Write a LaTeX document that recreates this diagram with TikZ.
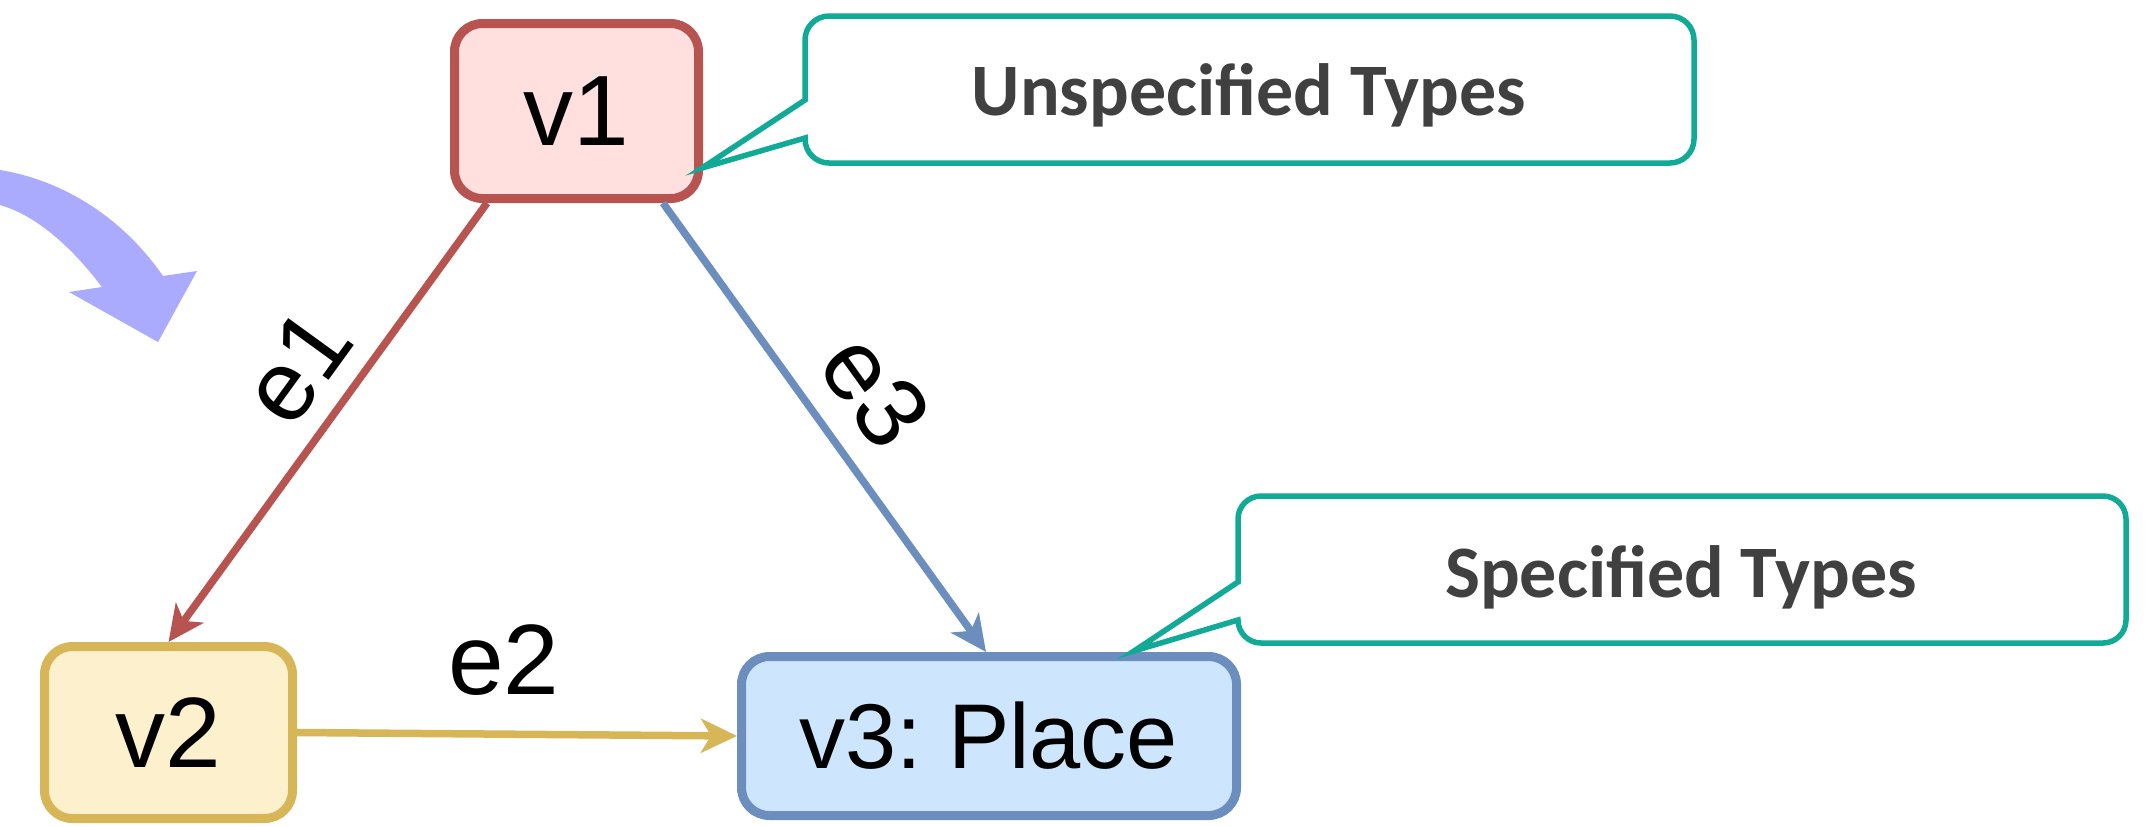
\documentclass[tikz,border=0pt]{standalone}
\usepackage{fontspec}
\setmainfont{Liberation Sans}
\newfontfamily\calloutfont{Carlito}
\usetikzlibrary{arrows.meta}

\definecolor{redline}{RGB}{184,84,80}
\definecolor{redfill}{RGB}{255,224,223}
\definecolor{yelline}{RGB}{214,182,86}
\definecolor{yelfill}{RGB}{253,240,204}
\definecolor{blueline}{RGB}{108,142,191}
\definecolor{bluefill}{RGB}{206,230,253}
\definecolor{teal}{RGB}{16,170,150}
\definecolor{calltext}{RGB}{64,64,64}
\definecolor{bigarrow}{RGB}{170,170,255}

\tikzset{
  vertex/.style={draw, line width=4.5pt, rounded corners=14pt, inner sep=0pt,
    font=\fontsize{50pt}{60pt}\selectfont},
  edgeline/.style={line width=3.75pt, -{Stealth[length=18pt, width=17pt, inset=5pt]}},
  elabel/.style={font=\fontsize{50pt}{60pt}\selectfont},
  callout/.style={draw=teal, line width=2.75pt, fill=white, line join=miter},
  calloutlabel/.style={font=\calloutfont\bfseries\fontsize{37pt}{44pt}\selectfont,
    text=calltext, anchor=base, inner sep=0pt}
}

\begin{document}
\begin{tikzpicture}[x=0.5pt, y=0.5pt]
\useasboundingbox (0,0) rectangle (2153,-826);

% curved hint arrow at the left
\fill[bigarrow] (0,-170) .. controls (50,-178) and (115,-207) .. (163,-276)
  -- (197,-271) -- (158,-342) -- (69,-292) -- (102,-287)
  .. controls (70,-245) and (35,-215) .. (0,-205) -- cycle;

% vertices
\node[vertex, draw=redline, fill=redfill, minimum width=122pt, minimum height=87.5pt]
  (v1) at (576.5,-111) {v1};
\node[vertex, draw=yelline, fill=yelfill, minimum width=124pt, minimum height=86pt]
  (v2) at (168.5,-732.5) {v2};
\node[vertex, draw=blueline, fill=bluefill, minimum width=247.5pt, minimum height=79.5pt,
  font=\fontsize{46pt}{55pt}\selectfont]
  (v3) at (989,-736) {v3:\ Place};

% edges
\draw[edgeline, redline] ([xshift=-44.75pt]v1.south) -- (v2.north)
  node[elabel, pos=0.45, sloped, above, inner sep=9.5pt, text=black] (l1) {e1};
\draw[edgeline, blueline] ([xshift=43.25pt]v1.south) -- ([xshift=-1.5pt]v3.north)
  node[elabel, pos=0.5, sloped, above, inner sep=12pt, text=black] (l3) {e3};
\draw[edgeline, yelline] (v2.east) -- (v3.west)
  node[elabel, pos=0.47, above, inner sep=17.5pt, text=black] (l2) {e2};

% callouts
\coordinate (tip1) at (702,-168);
\draw[callout] (805,-100) -- (tip1) -- (805,-138) -- (805,-139)
  arc[start angle=180, end angle=270, radius=24] -- (1670,-163)
  arc[start angle=270, end angle=360, radius=24] -- (1694,-40)
  arc[start angle=0, end angle=90, radius=24] -- (829,-16)
  arc[start angle=90, end angle=180, radius=24] -- cycle;
\node[calloutlabel] (c1) at (1249,-115) {Unspecified Types};

\coordinate (tip2) at (1134,-651);
\draw[callout] (1238,-582) -- (tip2) -- (1238,-620)
  arc[start angle=180, end angle=270, radius=23] -- (2103,-643)
  arc[start angle=270, end angle=360, radius=23] -- (2126,-519)
  arc[start angle=0, end angle=90, radius=23] -- (1261,-496)
  arc[start angle=90, end angle=180, radius=23] -- cycle;
\node[calloutlabel] (c2) at (1681,-597) {Specified Types};
\end{tikzpicture}
\end{document}
